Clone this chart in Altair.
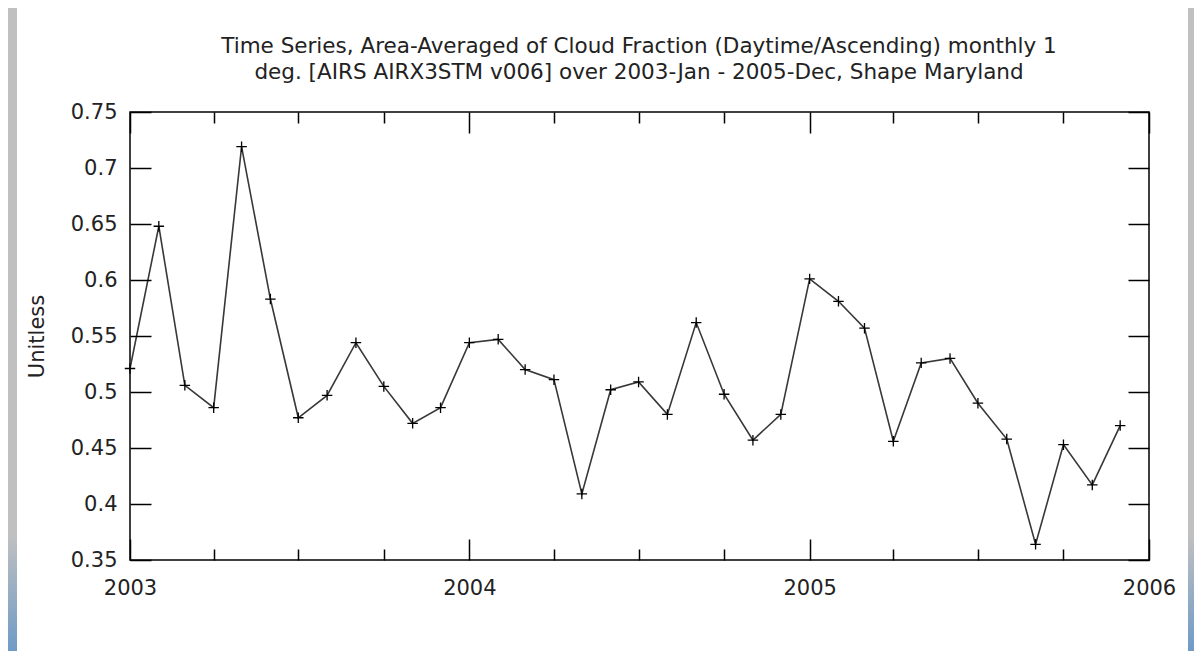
import altair as alt
import pandas as pd

# ---- data ----
years = [2003, 2004, 2005]
month_dates = [f"{y}-{m:02d}-01" for y in years for m in range(1, 13)]
cloud_fraction = [
    0.521, 0.648, 0.506, 0.486, 0.719, 0.583, 0.477, 0.497, 0.544, 0.505, 0.472, 0.486,
    0.544, 0.547, 0.520, 0.511, 0.409, 0.502, 0.509, 0.480, 0.562, 0.498, 0.457, 0.480,
    0.601, 0.581, 0.557, 0.456, 0.526, 0.530, 0.490, 0.458, 0.364, 0.453, 0.417, 0.470,
]
year_ticks = [2003, 2004, 2005, 2006]
quarter_months = [4, 7, 10]
y_ticks = [0.35, 0.4, 0.45, 0.5, 0.55, 0.6, 0.65, 0.7, 0.75]
title_lines = [
    "Time Series, Area-Averaged of Cloud Fraction (Daytime/Ascending) monthly 1",
    "deg. [AIRS AIRX3STM v006] over 2003-Jan - 2005-Dec, Shape Maryland",
]
y_title = "Unitless"

df = pd.DataFrame({"date": month_dates, "value": cloud_fraction})

FONT = "DejaVu Sans"
TXT = "#222222"

major_vals = [alt.DateTime(year=y, month=1, date=1, utc=True) for y in year_ticks]
minor_vals = [alt.DateTime(year=y, month=m, date=1, utc=True) for y in years for m in quarter_months]

xscale = alt.Scale(type="utc", domain=[major_vals[0], major_vals[-1]], nice=False)
yscale = alt.Scale(domain=[0.35, 0.75], nice=False, zero=False)


def tick_axis(orient, values, size, offset):
    return alt.Axis(orient=orient, values=values, tickSize=size, offset=offset, labels=False,
                    domain=False, grid=False, title=None, ticks=True, tickColor="#000000",
                    tickWidth=1.5, zindex=1)


base = alt.Chart(df)

# main line with labelled axes
line = base.mark_line(color="#383838", strokeWidth=1.6).encode(
    x=alt.X("date:T", scale=xscale, axis=alt.Axis(
        orient="bottom", values=major_vals, format="%Y", ticks=False, domain=False, grid=False,
        labelFlush=False, labelOverlap=False, labelPadding=17, labelFontSize=21, labelFont=FONT,
        labelColor=TXT, title=None, zindex=1)),
    y=alt.Y("value:Q", scale=yscale, axis=alt.Axis(
        orient="left", values=y_ticks, format=".2~f", ticks=False, domain=False, grid=False,
        labelPadding=13, labelFontSize=21, labelFont=FONT, labelColor=TXT,
        labelFlush=False, labelOverlap=False,
        title=y_title, titleFontSize=21, titleFont=FONT, titleFontWeight="normal",
        titleColor=TXT, titlePadding=23, zindex=1)),
)

plus = "M-1,0H1M0,-1V1"
points = base.mark_point(shape=plus, size=110, stroke="#000000", strokeWidth=1.3,
                         filled=False, opacity=1).encode(
    x=alt.X("date:T", scale=xscale, axis=tick_axis("bottom", major_vals, 21, -21)),
    y=alt.Y("value:Q", scale=yscale, axis=tick_axis("left", y_ticks, 21, -21)),
)

ghost1 = base.mark_point(opacity=0).encode(
    x=alt.X("date:T", scale=xscale, axis=tick_axis("bottom", minor_vals, 11, -11)),
    y=alt.Y("value:Q", scale=yscale, axis=tick_axis("right", y_ticks, 21, -21)),
)
ghost2 = base.mark_point(opacity=0).encode(
    x=alt.X("date:T", scale=xscale, axis=tick_axis("top", major_vals, 21, -21)),
    y=alt.Y("value:Q", scale=yscale, axis=None),
)
ghost3 = base.mark_point(opacity=0).encode(
    x=alt.X("date:T", scale=xscale, axis=tick_axis("top", minor_vals, 11, -11)),
    y=alt.Y("value:Q", scale=yscale, axis=None),
)

# decorative page border strips (grey fading to blue)
strip_fill = alt.Gradient(
    gradient="linear",
    stops=[alt.GradientStop(color="#c0c0c0", offset=0),
           alt.GradientStop(color="#c0c0c0", offset=0.82),
           alt.GradientStop(color="#6f9bc6", offset=1)],
    x1=0, x2=0, y1=0, y2=1,
)
one = alt.Data(values=[{}])
left_strip = alt.Chart(one).mark_rect(fill=strip_fill).encode(
    x=alt.value(-122), x2=alt.value(-113), y=alt.value(-104), y2=alt.value(539))
right_strip = alt.Chart(one).mark_rect(fill=strip_fill).encode(
    x=alt.value(1058), x2=alt.value(1070), y=alt.value(-104), y2=alt.value(539))

# two-line chart title as text
title = alt.Chart(one).mark_text(
    font=FONT, fontSize=21.5, color=TXT, align="center", baseline="alphabetic", lineHeight=25.5
).encode(x=alt.value(509), y=alt.value(-59), text=alt.value(title_lines))

chart = alt.layer(
    left_strip, right_strip, title, line, points, ghost1, ghost2, ghost3
).resolve_axis(x="independent", y="independent").properties(
    width=1019,
    height=448,
    autosize=alt.AutoSizeParams(type="none"),
    padding={"left": 122, "top": 104, "right": 45, "bottom": 91},
    background="#ffffff",
).configure_view(stroke="#000000", strokeWidth=1.5, fill="#ffffff")

chart.save("out.html", embed_options={"renderer": "svg", "actions": False})
